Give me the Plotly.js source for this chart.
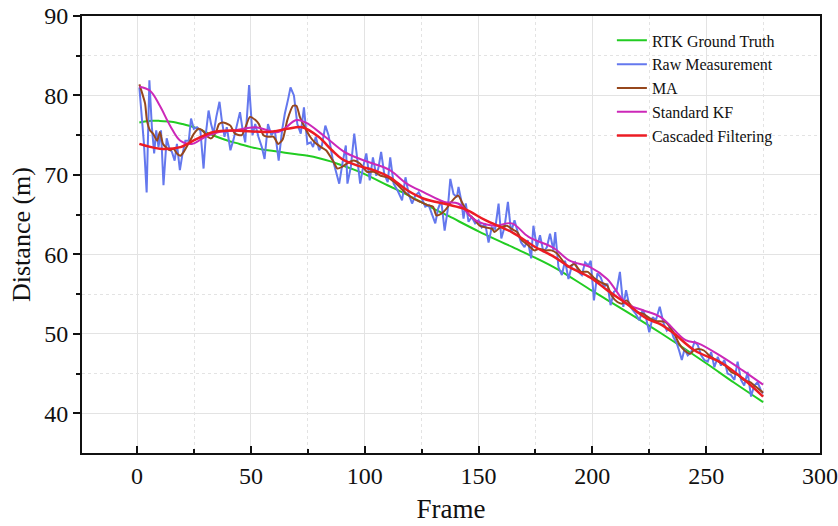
<!DOCTYPE html>
<html>
<head>
<meta charset="utf-8">
<script src="https://cdn.plot.ly/plotly-3.0.1.min.js"></script>
<style>html,body{margin:0;padding:0;background:#fff;}#chart{width:838px;height:526px;}</style>
</head>
<body>
<div id="chart"></div>
<script>
// RTK Ground Truth
const rtkFrame = [1, 5, 10, 15, 20, 25, 30, 35, 40, 45, 50, 55, 60, 65, 70, 75, 80, 85, 90, 95, 100, 110, 120, 130, 137, 150, 165, 183, 200, 215, 230, 250, 262, 275];
const rtkDist  = [76.6, 76.8, 76.8, 76.7, 76.4, 76.0, 75.4, 74.8, 74.3, 73.9, 73.5, 73.2, 73.0, 72.8, 72.6, 72.4, 72.1, 71.7, 71.2, 70.7, 70.1, 68.7, 67.3, 65.8, 64.8, 62.9, 60.9, 58.4, 55.4, 52.8, 50.1, 46.3, 43.9, 41.4];

// Raw Measurement
const rawFrame = [1, 3, 4.2, 5.4, 6.5, 7.5, 8.4, 9.4, 10.5, 11.6, 13, 14.2, 15.3, 16.5, 17.5, 18.8, 19.8, 21.2, 22.7, 23.7, 24.9, 26.3, 27.8, 29.2, 30.3, 31.4, 32.5, 33.6, 34.8, 36.2, 37.2, 38.4, 39.4, 41, 42.4, 43.9, 45.2, 46.3, 47.5, 49.2, 50.7, 51.9, 53.3, 54.8, 56, 57.5, 59, 60.5, 62.2, 63.7, 64.9, 66.4, 67.4, 68.9, 70.4, 71.9, 73.3, 74.8, 76.3, 77.3, 78.5, 80, 81.2, 82.7, 84.1, 85.9, 87.3, 88.8, 90.3, 91.7, 92.4, 93.9, 95.4, 96.9, 98, 99.3, 100.7, 102.2, 103.6, 105.1, 106.1, 107.2, 108.6, 110.1, 111.2, 112.7, 114.5, 116.4, 117.9, 119.3, 120.8, 122.2, 123.7, 125.1, 126.6, 128.1, 129.5, 131, 132.2, 133.6, 135.1, 136.4, 137.6, 139, 140.5, 141.2, 142.4, 143.4, 144.4, 145.6, 147, 148.5, 150, 151.4, 152.9, 154.4, 155.8, 157.3, 158.8, 160, 161.4, 162.9, 164.3, 165.8, 167.2, 168.7, 170.2, 171.6, 173.1, 174.1, 175.6, 177, 178.5, 180, 181.4, 182.9, 183.7, 185.1, 186.6, 188, 189.5, 191, 192.4, 193.9, 195.4, 196.8, 198.3, 199.3, 200.7, 202.2, 203.7, 205.1, 206.6, 208, 209.5, 210.7, 212.1, 213.6, 214.8, 216.2, 217.7, 219.1, 220.6, 222.1, 223.5, 225, 226.5, 227.9, 229.6, 231.3, 232.7, 234.2, 235.6, 237.1, 238.1, 239.3, 240.5, 241.9, 243.4, 244.9, 246.3, 247.8, 249.2, 250.7, 252.2, 253.6, 255.1, 256.5, 258, 259.4, 260.9, 262.4, 263.8, 265.3, 266.7, 268.2, 269.7, 271.1, 272.6, 274, 275];
const rawDist  = [81.0, 74.0, 67.8, 81.9, 76.0, 72.7, 75.6, 73.5, 75.6, 68.7, 74.6, 73.3, 72.9, 71.8, 73.9, 70.6, 72.4, 74.3, 74.3, 77.1, 75.8, 76.0, 75.6, 70.8, 75.4, 78.1, 76.4, 75.2, 77.3, 79.2, 76.9, 74.8, 76.0, 73.1, 74.5, 76.4, 77.9, 75.8, 74.1, 81.3, 75.0, 76.4, 74.8, 73.5, 72.0, 76.4, 75.0, 75.6, 71.8, 75.6, 77.7, 79.6, 81.0, 80.0, 76.4, 75.2, 78.5, 73.9, 74.1, 73.5, 74.8, 73.1, 73.7, 76.2, 75.0, 72.0, 70.6, 68.9, 71.6, 73.7, 68.9, 71.0, 75.2, 71.4, 68.9, 71.0, 72.7, 69.3, 72.2, 69.9, 71.0, 72.9, 70.1, 69.1, 72.2, 68.9, 68.0, 66.8, 69.7, 67.6, 66.4, 67.4, 67.8, 67.0, 66.0, 66.2, 65.1, 63.9, 65.7, 66.8, 63.0, 65.5, 69.5, 67.6, 67.2, 68.5, 66.8, 64.5, 66.4, 64.1, 64.7, 63.9, 64.3, 63.4, 63.9, 61.5, 63.4, 63.2, 66.4, 62.0, 63.4, 66.6, 62.8, 64.3, 62.8, 61.5, 60.9, 61.8, 59.5, 63.6, 60.9, 62.4, 60.3, 60.9, 62.6, 60.5, 62.8, 58.4, 57.4, 59.2, 56.9, 58.6, 59.0, 57.8, 57.4, 59.0, 58.6, 59.2, 54.2, 57.6, 57.1, 55.9, 56.3, 53.6, 55.3, 55.5, 57.8, 53.4, 55.5, 53.6, 53.0, 52.5, 51.7, 53.0, 52.1, 50.2, 52.1, 51.7, 53.4, 51.3, 50.4, 50.9, 49.6, 48.8, 47.9, 46.7, 48.1, 47.3, 47.7, 49.0, 48.6, 47.3, 46.7, 46.5, 47.7, 45.8, 47.1, 46.0, 46.7, 45.0, 44.8, 44.2, 46.5, 44.2, 43.5, 45.2, 42.1, 43.5, 43.9, 42.9, 42.5];

// MA
const maFrame = [1, 3.5, 4.3, 5.7, 7, 8.8, 10, 11.4, 13, 14.5, 16, 17.5, 19, 20.5, 22.7, 25, 27, 28.7, 31, 32.5, 34.7, 36, 37.8, 39, 41, 43, 46, 49.6, 52, 53.5, 55.5, 57.5, 60, 62, 64, 66, 68.5, 70, 71.5, 74, 76, 78, 80.8, 83, 86, 88, 90, 92, 95, 98, 101, 104, 107, 110, 113, 116, 118.5, 121.5, 124.5, 127.5, 130, 131.5, 133.5, 136, 138, 141, 143, 145.5, 148.5, 150.5, 153, 156, 157, 159.5, 162.5, 164.6, 167, 169, 172, 174.5, 176.5, 179.5, 182, 184.5, 187.5, 189.5, 192, 195, 198, 200.5, 203.5, 206.5, 208.5, 211, 213, 215, 217.5, 220, 222.5, 225.5, 228, 232, 236, 238, 240.5, 243, 244.5, 246.5, 249, 252, 254.5, 256.5, 258.5, 261, 264, 266.5, 269.5, 272, 275];
const maDist  = [81.4, 79.0, 76.9, 75.6, 75.2, 74.3, 75.4, 73.9, 73.4, 73.1, 73.3, 72.7, 72.4, 72.9, 74.0, 75.2, 75.8, 75.6, 74.8, 74.6, 75.4, 76.4, 76.6, 76.5, 76.2, 75.2, 75.0, 77.3, 76.9, 76.4, 75.0, 74.8, 74.8, 73.9, 74.5, 76.9, 78.7, 78.7, 77.3, 75.8, 74.8, 74.1, 73.5, 73.1, 71.8, 70.8, 71.0, 71.4, 71.8, 71.4, 70.4, 70.4, 69.9, 69.7, 69.1, 68.3, 67.6, 67.0, 66.6, 66.2, 66.0, 64.9, 65.1, 65.8, 66.6, 67.4, 66.4, 65.1, 64.3, 63.6, 63.4, 63.2, 62.8, 63.4, 63.6, 63.2, 62.8, 61.8, 61.1, 60.5, 60.7, 60.5, 60.5, 60.1, 59.0, 58.4, 58.8, 57.8, 57.8, 57.1, 56.5, 56.1, 54.8, 54.0, 53.8, 54.2, 53.4, 52.7, 52.5, 51.9, 51.6, 51.5, 50.0, 48.8, 47.9, 47.5, 47.9, 48.1, 47.9, 47.1, 46.7, 46.3, 46.0, 45.2, 44.8, 44.2, 43.9, 43.3, 42.6];

// Standard KF
const kfFrame = [1, 5.7, 10, 14.5, 19, 24, 30, 36, 43, 52, 62, 70, 74, 82.6, 91, 98, 104, 111, 118.5, 126, 135, 141, 148.5, 157, 164.6, 172, 183, 190, 199, 206.5, 215, 222, 230, 241, 246.5, 257, 266, 275];
const kfDist  = [81.1, 80.6, 78.7, 76.2, 74.3, 73.9, 74.8, 75.4, 75.6, 76.0, 75.4, 76.9, 76.6, 74.8, 72.9, 72.0, 71.4, 70.6, 68.9, 67.8, 66.6, 66.4, 64.3, 63.6, 63.9, 62.2, 60.8, 59.2, 58.4, 56.9, 53.8, 53.0, 52.1, 49.2, 48.8, 47.1, 45.4, 43.6];

// Cascaded Filtering
const cfFrame = [1, 10, 19, 26, 33.5, 42, 57.5, 66, 72.5, 79.7, 85.6, 90, 96.5, 104, 111, 118.5, 126, 136, 144, 153, 164.6, 175, 182.5, 190, 199, 206.5, 215, 224, 230, 236, 245, 257, 266, 275];
const cfDist  = [73.9, 73.3, 73.5, 74.5, 75.4, 75.6, 75.4, 75.8, 76.0, 74.8, 73.1, 72.0, 71.2, 70.6, 69.7, 68.1, 67.0, 66.3, 65.7, 64.3, 62.8, 60.9, 59.8, 58.4, 57.1, 55.5, 53.8, 51.9, 51.2, 50.0, 47.9, 46.3, 44.4, 42.1];

const serif = '"Liberation Serif", "Times New Roman", Times, serif';

const traces = [
  {x: rtkFrame, y: rtkDist, name: 'RTK Ground Truth', mode: 'lines', line: {color: '#22cc22', width: 2, shape: 'spline'}},
  {x: rawFrame, y: rawDist, name: 'Raw Measurement', mode: 'lines', line: {color: '#6478ee', width: 2}},
  {x: maFrame, y: maDist, name: 'MA', mode: 'lines', line: {color: '#96471c', width: 2, shape: 'spline', smoothing: 0.6}},
  {x: kfFrame, y: kfDist, name: 'Standard KF', mode: 'lines', line: {color: '#cc28b8', width: 2, shape: 'spline'}},
  {x: cfFrame, y: cfDist, name: 'Cascaded Filtering', mode: 'lines', line: {color: '#ec1c24', width: 2.5, shape: 'spline'}}
];

const layout = {
  width: 838, height: 526,
  margin: {l: 82, r: 18, t: 16, b: 73},
  paper_bgcolor: '#fff', plot_bgcolor: '#fff',
  font: {family: serif, color: '#111'},
  showlegend: true,
  legend: {x: 0.718, y: 0.983, xanchor: 'left', yanchor: 'top', bgcolor: 'rgba(0,0,0,0)', borderwidth: 0, font: {family: serif, size: 16, color: '#111'}, tracegroupgap: 0},
  xaxis: {
    range: [-24.2, 300], tickvals: [0, 50, 100, 150, 200, 250, 300],
    ticks: 'inside', ticklen: 7, tickwidth: 2, tickcolor: '#111',
    showline: true, linewidth: 2, linecolor: '#111', mirror: true,
    showgrid: true, gridcolor: '#e3e3e3', gridwidth: 1, zeroline: false,
    minor: {tickvals: [25, 75, 125, 175, 225, 275], ticks: 'inside', ticklen: 4, tickwidth: 2, tickcolor: '#111', showgrid: true, gridcolor: '#e3e3e3', griddash: 'dot', gridwidth: 1},
    tickfont: {family: serif, size: 24, color: '#111'},
    title: {text: 'Frame', font: {family: serif, size: 27, color: '#111'}, standoff: 11}
  },
  yaxis: {
    range: [35, 90], tickvals: [40, 50, 60, 70, 80, 90],
    ticks: 'outside', ticklen: 7, tickwidth: 2, tickcolor: '#111',
    showline: true, linewidth: 2, linecolor: '#111', mirror: true,
    showgrid: true, gridcolor: '#e3e3e3', gridwidth: 1, zeroline: false,
    minor: {tickvals: [45, 55, 65, 75, 85], ticks: 'outside', ticklen: 4, tickwidth: 2, tickcolor: '#111', showgrid: true, gridcolor: '#e3e3e3', griddash: 'dot', gridwidth: 1},
    tickfont: {family: serif, size: 24, color: '#111'},
    title: {text: 'Distance (m)', font: {family: serif, size: 26, color: '#111'}, standoff: 6}
  }
};

Plotly.newPlot('chart', traces, layout, {displayModeBar: false, staticPlot: true});
</script>
</body>
</html>
